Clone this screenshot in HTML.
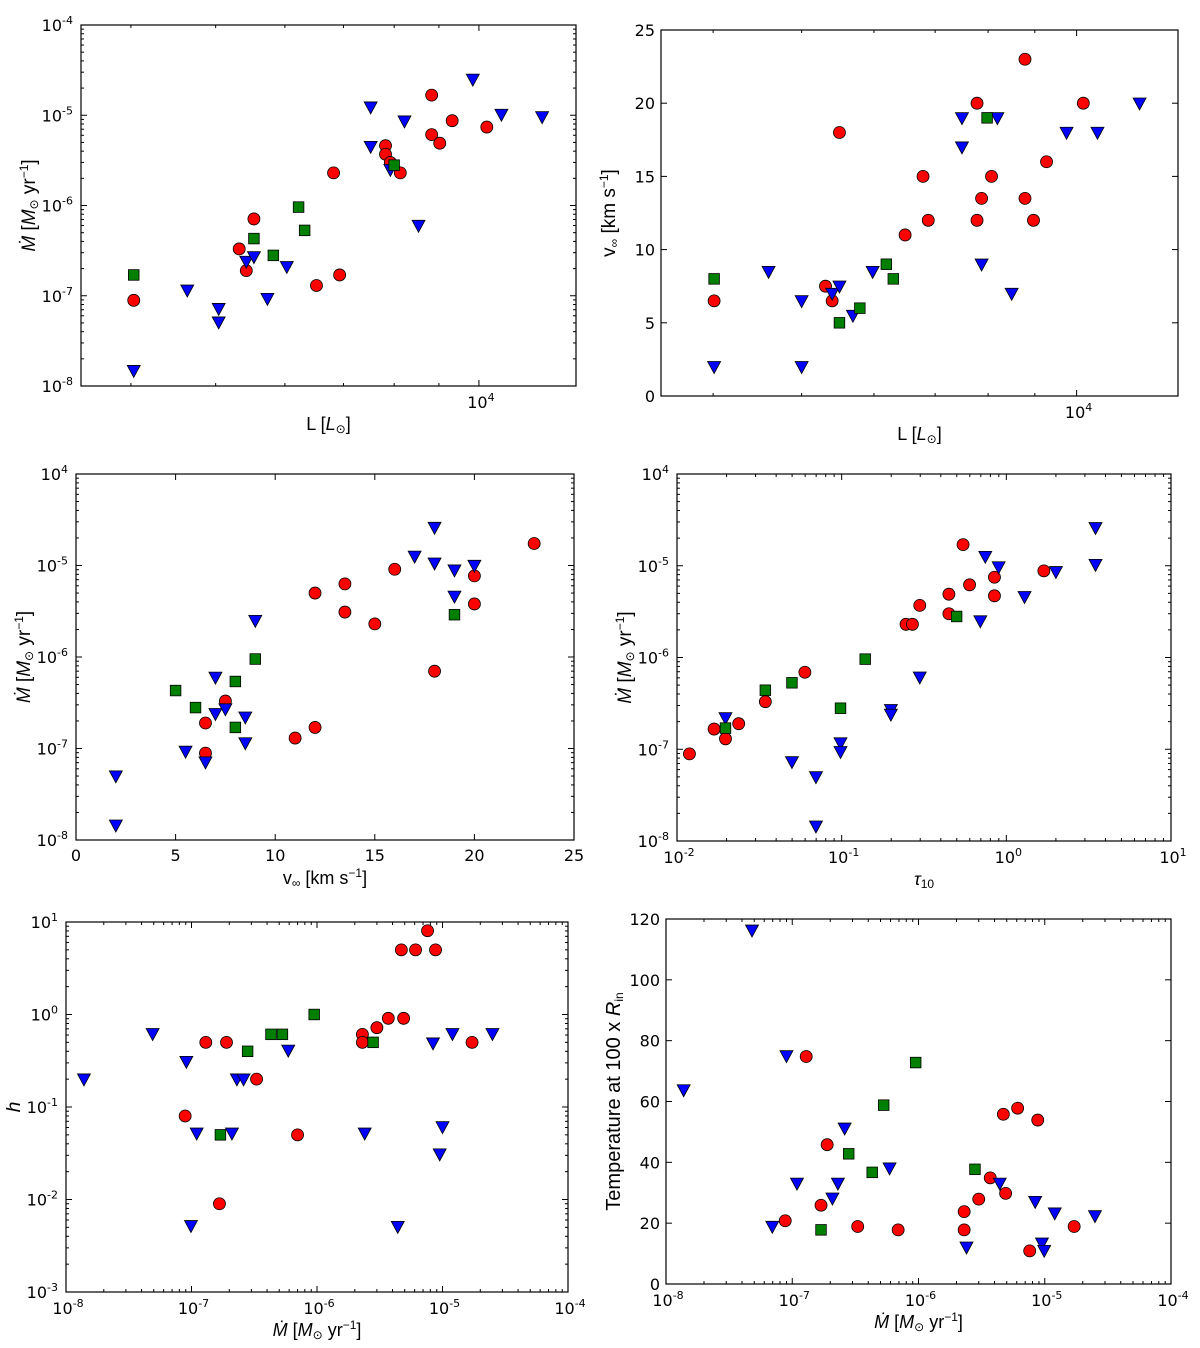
<!DOCTYPE html>
<html><head><meta charset="utf-8"><style>
html,body{margin:0;padding:0;background:#fff;}
svg{display:block;font-family:"DejaVu Sans","Liberation Sans",sans-serif;}
</style></head><body>
<svg id="fig" width="1200" height="1348" viewBox="0 0 1200 1348" xmlns="http://www.w3.org/2000/svg"></svg>
<script>
// ---- Panel 1: L vs Mdot ----
const p1RedL=[4030,5320,5420,5530,6520,6820,6930,7820,7820,7920,8130,8830,8830,9020,9320,10210];
const p1RedM=[8.9e-8,3.3e-7,1.9e-7,7.1e-7,1.3e-7,2.3e-6,1.7e-7,4.6e-6,3.7e-6,3.0e-6,2.3e-6,1.67e-5,6.1e-6,4.9e-6,8.7e-6,7.4e-6];
const p1BlueL=[4030,4640,5040,5040,5420,5530,5730,6030,7520,7520,7920,8220,8530,9840,10610,11810];
const p1BlueM=[1.48e-8,1.15e-7,7.2e-8,5.1e-8,2.4e-7,2.7e-7,9.3e-8,2.1e-7,1.23e-5,4.5e-6,2.5e-6,8.6e-6,6.0e-7,2.5e-5,1.02e-5,9.6e-6];
const p1GreenL=[4030,5530,5820,6220,6320,8000];
const p1GreenM=[1.7e-7,4.3e-7,2.8e-7,9.6e-7,5.3e-7,2.8e-6];
// ---- Panel 2: L vs v ----
const p2RedL=[4010,5310,5400,5500,6490,6790,6880,7780,7780,7870,8070,8780,8780,8970,9270,10170];
const p2RedV=[6.5,7.5,6.5,18,11,15,12,20,12,13.5,15,23,13.5,12,16,20];
const p2BlueL=[4010,4600,5000,5000,5400,5500,5690,5980,7490,7490,7870,8190,8490,9750,10540,11720];
const p2BlueV=[2,8.5,6.5,2,7,7.5,5.5,8.5,19,17,9,19,7,18,18,20];
const p2GreenL=[4010,5500,5790,6190,6300,7980];
const p2GreenV=[8,5,6,9,8,19];
// ---- Panel 3: v vs Mdot ----
const p3RedV=[6.5,6.5,7.5,11,12,12,13.5,13.5,15,16,18,20,20,23];
const p3RedM=[8.9e-8,1.9e-7,3.3e-7,1.3e-7,1.7e-7,5.0e-6,6.3e-6,3.1e-6,2.3e-6,9.1e-6,7.0e-7,7.7e-6,3.8e-6,1.74e-5];
const p3BlueV=[2,2,5.5,6.5,7,7,7.5,8.5,8.5,9,17,18,18,19,19,20];
const p3BlueM=[5.0e-8,1.45e-8,9.3e-8,7.1e-8,6.0e-7,2.4e-7,2.7e-7,2.2e-7,1.15e-7,2.5e-6,1.26e-5,2.6e-5,1.06e-5,8.9e-6,4.6e-6,1.0e-5];
const p3GreenV=[5,6,8,8,9,19];
const p3GreenM=[4.3e-7,2.8e-7,5.4e-7,1.7e-7,9.5e-7,2.9e-6];
// ---- Panel 4: tau vs Mdot ----
const p4RedT=[0.0119,0.0168,0.0197,0.0237,0.0344,0.0598,0.246,0.269,0.298,0.448,0.448,0.546,0.598,0.847,0.847,1.69];
const p4RedM=[8.9e-8,1.66e-7,1.3e-7,1.9e-7,3.3e-7,6.9e-7,2.3e-6,2.3e-6,3.7e-6,4.9e-6,3.0e-6,1.7e-5,6.2e-6,7.5e-6,4.7e-6,8.8e-6];
const p4BlueT=[0.0197,0.0499,0.0698,0.0698,0.0984,0.0984,0.199,0.199,0.298,0.695,0.745,0.898,1.29,2.0,3.48,3.48];
const p4BlueM=[2.2e-7,7.3e-8,5.0e-8,1.45e-8,1.17e-7,9.4e-8,2.7e-7,2.4e-7,6.1e-7,2.5e-6,1.26e-5,9.7e-6,4.6e-6,8.6e-6,2.6e-5,1.03e-5];
const p4GreenT=[0.0197,0.0344,0.0499,0.0984,0.139,0.499];
const p4GreenM=[1.7e-7,4.4e-7,5.3e-7,2.8e-7,9.6e-7,2.8e-6];
// ---- Panel 5: Mdot vs h ----
const p5RedM=[8.9e-8,1.3e-7,1.67e-7,1.9e-7,3.3e-7,7.0e-7,2.3e-6,2.3e-6,3.0e-6,3.7e-6,4.7e-6,4.9e-6,6.1e-6,7.6e-6,8.8e-6,1.72e-5];
const p5RedH=[0.08,0.5,0.009,0.5,0.2,0.05,0.61,0.5,0.72,0.91,5.0,0.91,5.0,8.05,5.0,0.5];
const p5BlueM=[1.39e-8,4.9e-8,9.1e-8,9.9e-8,1.1e-7,2.1e-7,2.3e-7,2.6e-7,5.9e-7,2.4e-6,4.4e-6,8.4e-6,9.5e-6,1.0e-5,1.2e-5,2.5e-5];
const p5BlueH=[0.2,0.62,0.31,0.0052,0.052,0.052,0.2,0.2,0.41,0.052,0.0051,0.49,0.031,0.061,0.62,0.62];
const p5GreenM=[1.7e-7,2.8e-7,4.3e-7,5.3e-7,9.5e-7,2.8e-6];
const p5GreenH=[0.05,0.4,0.61,0.61,1.0,0.5];
// ---- Panel 6: Mdot vs T ----
const p6RedM=[8.8e-8,1.29e-7,1.69e-7,1.89e-7,3.3e-7,6.9e-7,2.3e-6,2.3e-6,3.0e-6,3.7e-6,4.7e-6,4.9e-6,6.1e-6,7.6e-6,8.8e-6,1.71e-5];
const p6RedT=[20.8,74.8,25.9,45.8,18.9,17.8,23.8,17.8,27.9,34.9,55.8,29.8,57.8,10.9,53.9,18.9];
const p6BlueM=[1.38e-8,4.8e-8,6.95e-8,9.0e-8,1.09e-7,2.08e-7,2.3e-7,2.6e-7,5.9e-7,2.4e-6,4.4e-6,8.4e-6,9.5e-6,9.9e-6,1.2e-5,2.5e-5];
const p6BlueT=[63.8,116.3,18.9,75.0,33.1,28.2,33.1,51.2,38.1,12.1,33.1,27.1,13.4,11.0,23.3,22.4];
const p6GreenM=[1.69e-7,2.8e-7,4.3e-7,5.3e-7,9.5e-7,2.8e-6];
const p6GreenT=[17.8,42.8,36.7,58.8,72.8,37.7];
// tick labels
const yLinV=[0,5,10,15,20,25];
const yLinT=[0,20,40,60,80,100,120];
const logYMdot=[-8,-7,-6,-5,-4];
const logYMdotLbl=["-8","-7","-6","-5","-4"];
const logYMdotLbl2=["-8","-7","-6","-5","4"];
const logXTau=[-2,-1,0,1];
const logYh=[-3,-2,-1,0,1];
const logXM=[-8,-7,-6,-5,-4];
const logXL=[4];

const NS="http://www.w3.org/2000/svg";
const svg=document.getElementById('fig');
function mk(tag,attrs,parent){const e=document.createElementNS(NS,tag);for(const k in attrs)e.setAttribute(k,attrs[k]);(parent||svg).appendChild(e);return e;}
function scale(s,px0,px1){
  if(s.type==='log'){const a=Math.log10(s.min),b=Math.log10(s.max);return v=>px0+(Math.log10(v)-a)/(b-a)*(px1-px0);}
  return v=>px0+(v-s.min)/(s.max-s.min)*(px1-px0);
}
function powLabel(g,x,y,exp,anchor,name){
  const t=mk('text',{x:x,y:y,'font-size':16,'text-anchor':anchor,fill:'#000'},g);
  
  
  t.appendChild(document.createTextNode('10'));
  const s=mk('tspan',{dy:-7,'font-size':11},t);s.textContent=exp;
  return t;
}
function panel(c){
  const g=mk('g',{});
  
  
  const X=scale(c.xs,c.x0,c.x1),Y=scale(c.ys,c.y1,c.y0);
  const fr=mk('rect',{x:c.x0,y:c.y0,width:c.x1-c.x0,height:c.y1-c.y0,fill:'#fff',stroke:'#000','stroke-width':1.2},g);
  
  
  function ticksFor(s){const out=[];if(s.type==='log'){const a=Math.floor(Math.log10(s.min)),b=Math.ceil(Math.log10(s.max));for(let d=a;d<=b;d++){for(let m=1;m<10;m++){const v=m*Math.pow(10,d);if(v>=s.min*0.999&&v<=s.max*1.001)out.push({v:v,major:m===1});}}}else{for(let v=s.min;v<=s.max+1e-9;v+=s.step)out.push({v:v,major:true});}return out;}
  const tg=mk('g',{stroke:'#000','stroke-width':1},g);
  
  
  ticksFor(c.xs).forEach(t=>{const x=X(t.v),L=t.major?6:3;mk('line',{x1:x,x2:x,y1:c.y1,y2:c.y1-L},tg);mk('line',{x1:x,x2:x,y1:c.y0,y2:c.y0+L},tg);});
  ticksFor(c.ys).forEach(t=>{const y=Y(t.v),L=t.major?6:3;mk('line',{x1:c.x0,x2:c.x0+L,y1:y,y2:y},tg);mk('line',{x1:c.x1,x2:c.x1-L,y1:y,y2:y},tg);});
  if(c.xs.type==='log'){c.xlog.forEach((e,i)=>powLabel(g,X(Math.pow(10,e))+2,c.y1+22,String(e),'middle','x-tick-label'));}
  else{c.xlin.forEach(v=>{const t=mk('text',{x:X(v),y:c.y1+21,'font-size':16,'text-anchor':'middle'},g);t.textContent=v;});}
  if(c.ys.type==='log'){c.ylog.forEach((e,i)=>powLabel(g,c.x0-8,Y(Math.pow(10,e))+6,c.ylogLbl[i],'end','y-tick-label'));}
  else{c.ylin.forEach(v=>{const t=mk('text',{x:c.x0-6,y:Y(v)+6,'font-size':16,'text-anchor':'end'},g);t.textContent=v;});}
  const xl=mk('text',{x:(c.x0+c.x1)/2,y:c.y1+44,'font-size':18,'text-anchor':'middle','font-family':'Liberation Sans,sans-serif'},g);
  
  
  xl.innerHTML=c.xt;
  const yx=c.x0-46,yy=(c.y0+c.y1)/2;
  const yl=mk('text',{x:yx,y:yy,'font-size':c.ytSize||19,'text-anchor':'middle','font-family':'Liberation Sans,sans-serif',transform:'rotate(-90 '+yx+' '+yy+')'},g);
  
  
  yl.innerHTML=c.yt;
  c.series.forEach(s=>{
    const sg=mk('g',{fill:s.color,stroke:'#000','stroke-width':0.8},g);
    
    
    s.xv.forEach((xv,i)=>{
      const x=X(xv),y=Y(s.yv[i]);let m;
      if(s.shape==='circle')m=mk('circle',{cx:x,cy:y,r:6},sg);
      else if(s.shape==='square')m=mk('rect',{x:x-5.3,y:y-5.3,width:10.6,height:10.6},sg);
      else m=mk('polygon',{points:(x-6.5)+','+(y-5.2)+' '+(x+6.5)+','+(y-5.2)+' '+x+','+(y+6.8)},sg);
      
      
    });
  });
}
const MD='<tspan font-style="italic">Ṁ</tspan> [<tspan font-style="italic">M</tspan><tspan font-size="12" dy="3">⊙</tspan><tspan dy="-3"> yr</tspan><tspan font-size="12" dy="-7">−1</tspan><tspan dy="7">]</tspan>';
const LL='L [<tspan font-style="italic">L</tspan><tspan font-size="12" dy="3">⊙</tspan><tspan dy="-3">]</tspan>';
const VV='v<tspan font-size="12" dy="3">∞</tspan><tspan dy="-3">  [km s</tspan><tspan font-size="12" dy="-7">−1</tspan><tspan dy="7">]</tspan>';
const xsL={type:'log',min:Math.pow(10,3.545),max:Math.pow(10,4.111)};
const ysM={type:'log',min:1e-8,max:1e-4};
function ser(r1,r2,b1,b2,g1,g2){return [{name:'red-circles',shape:'circle',color:'#ff0000',xv:r1,yv:r2},{name:'blue-triangles',shape:'tri',color:'#0000ff',xv:b1,yv:b2},{name:'green-squares',shape:'square',color:'#007f00',xv:g1,yv:g2}];}
panel({name:'panel-L-vs-mdot',x0:81,x1:576,y0:25,y1:386,xs:xsL,ys:ysM,xlog:logXL,ylog:logYMdot,ylogLbl:logYMdotLbl,xt:LL,yt:MD,series:ser(p1RedL,p1RedM,p1BlueL,p1BlueM,p1GreenL,p1GreenM)});
panel({name:'panel-L-vs-vinf',x0:661,x1:1178,y0:30,y1:396,xs:xsL,ys:{type:'lin',min:0,max:25,step:5},xlog:logXL,ylin:yLinV,xt:LL,yt:VV,series:ser(p2RedL,p2RedV,p2BlueL,p2BlueV,p2GreenL,p2GreenV)});
panel({name:'panel-vinf-vs-mdot',x0:76,x1:574,y0:474,y1:840,xs:{type:'lin',min:0,max:25,step:5},ys:ysM,xlin:yLinV,ylog:logYMdot,ylogLbl:logYMdotLbl2,xt:VV,yt:MD,series:ser(p3RedV,p3RedM,p3BlueV,p3BlueM,p3GreenV,p3GreenM)});
panel({name:'panel-tau-vs-mdot',x0:677,x1:1171,y0:474,y1:841,xs:{type:'log',min:0.01,max:10},ys:ysM,xlog:logXTau,ylog:logYMdot,ylogLbl:logYMdotLbl2,xt:'<tspan font-style="italic">τ</tspan><tspan font-size="12" dy="3">10</tspan>',yt:MD,series:ser(p4RedT,p4RedM,p4BlueT,p4BlueM,p4GreenT,p4GreenM)});
panel({name:'panel-mdot-vs-h',x0:66,x1:568,y0:922,y1:1292,xs:{type:'log',min:1e-8,max:1e-4},ys:{type:'log',min:1e-3,max:10},xlog:logXM,ylog:logYh,ylogLbl:logYh.map(String),xt:MD,yt:'<tspan font-style="italic">h</tspan>',series:ser(p5RedM,p5RedH,p5BlueM,p5BlueH,p5GreenM,p5GreenH)});
panel({name:'panel-mdot-vs-temperature',x0:666,x1:1171,y0:919,y1:1284,xs:{type:'log',min:1e-8,max:1e-4},ys:{type:'lin',min:0,max:120,step:20},xlog:logXM,ylin:yLinT,xt:MD,ytSize:20,yt:'Temperature at 100 x <tspan font-style="italic">R</tspan><tspan font-size="12" dy="3">in</tspan>',series:ser(p6RedM,p6RedT,p6BlueM,p6BlueT,p6GreenM,p6GreenT)});
</script>
</body></html>
